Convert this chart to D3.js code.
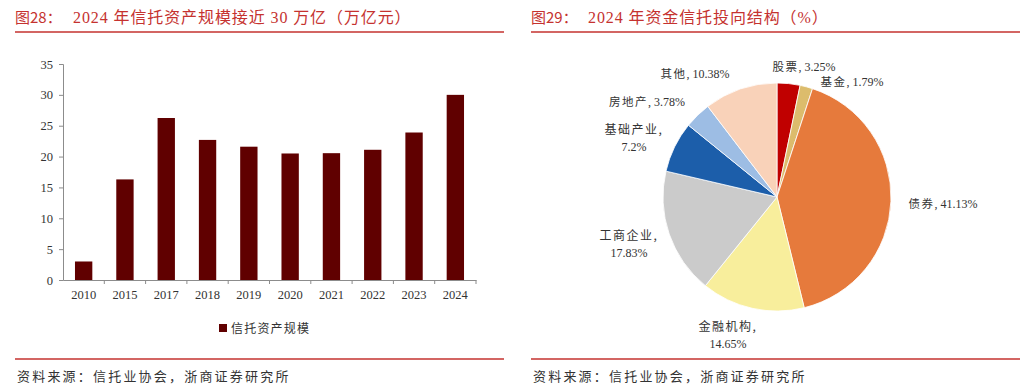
<!DOCTYPE html>
<html>
<head>
<meta charset="utf-8">
<script src="https://cdn.jsdelivr.net/npm/d3@7"></script>
<style>
  body { margin: 0; background: #fff; }
  svg text { font-family: "Liberation Serif", "Noto Sans CJK SC", serif; }
</style>
</head>
<body>
<svg id="chart" width="1024" height="386"></svg>
<script>
// left chart data
var years = ["2010", "2015", "2017", "2018", "2019", "2020", "2021", "2022", "2023", "2024"];
var assets = [3.0, 16.3, 26.25, 22.7, 21.6, 20.5, 20.55, 21.1, 23.9, 30.0];
var yTicks = [0, 5, 10, 15, 20, 25, 30, 35];

// right chart data
var sectors = ["股票", "基金", "债券", "金融机构", "工商企业", "基础产业", "房地产", "其他"];
var shares = [3.25, 1.79, 41.13, 14.65, 17.83, 7.2, 3.78, 10.38];
var sectorColors = ["#c00000", "#dcbc6c", "#e67a3c", "#f8ee9c", "#cbcbcb", "#1c5eaa", "#9dbde4", "#f9d2b9"];
// label anchor offsets from the pie centre (label layout, not data)
var labelOffsets = [[27, -130], [75, -115], [166, 7], [-49, 138], [-148, 47], [-143, -59], [-130, -95], [-82, -123]];
var labelTwoLines = [false, false, false, true, true, true, false, false];

var red = "#c5322f";
var cjk = "'Noto Sans CJK SC', sans-serif";
var svg = d3.select("#chart");

function panelFrame(x0, x1, numTxt, titleTxt, titleX) {
    svg.append("text").attr("x", x0).attr("y", 23)
        .style("font-family", cjk).style("font-size", "15px").style("fill", red)
        .text("图" + numTxt + "：");
    svg.append("text").attr("x", titleX).attr("y", 23)
        .style("font-family", "'Liberation Serif', 'Noto Sans CJK SC'")
        .style("font-size", "16px").style("fill", red)
        .style("letter-spacing", "0.9px")
        .text(titleTxt);
    svg.append("line").attr("x1", x0).attr("x2", x1).attr("y1", 32).attr("y2", 32)
        .style("stroke", red).style("stroke-width", 1.5);
    svg.append("line").attr("x1", x0).attr("x2", x1).attr("y1", 359).attr("y2", 359)
        .style("stroke", red).style("stroke-width", 1.5);
    svg.append("text").attr("x", x0 + 2).attr("y", 381)
        .style("font-family", cjk).style("font-size", "13px").style("fill", "#333")
        .style("letter-spacing", "2.2px")
        .text("资料来源：信托业协会，浙商证券研究所");
}

panelFrame(15, 504, "28", "2024 年信托资产规模接近 30 万亿（万亿元）", 73);
panelFrame(531, 1020, "29", "2024 年资金信托投向结构（%）", 588);

/**
 * Bar chart
 */
var x = d3.scaleBand().domain(years).range([63, 476]).paddingInner(0.58).paddingOuter(0.29);
var y = d3.scaleLinear().domain([0, 35]).range([280, 64]);

var yAxis = svg.append("g").attr("transform", "translate(63,0)")
    .call(d3.axisLeft(y).tickValues(yTicks).tickSize(4).tickPadding(6));
var xAxis = svg.append("g").attr("transform", "translate(0,280)")
    .call(d3.axisBottom(x).tickSize(0).tickPadding(10));

[yAxis, xAxis].forEach(function(a) {
    a.select(".domain").style("stroke", "#8c8c8c");
    a.selectAll(".tick line").style("stroke", "#8c8c8c");
    a.selectAll("text").style("font-size", "12.5px").style("fill", "#333")
        .style("font-family", "'Liberation Serif', serif");
});

// ticks between categories
svg.append("g").selectAll("line")
    .data(years.slice(1).concat(["end"]))
    .enter().append("line")
    .attr("x1", function(d, i) { return i < years.length - 1 ? x(years[i + 1]) - x.step() * x.paddingInner() / 2 : 476; })
    .attr("x2", function(d, i) { return i < years.length - 1 ? x(years[i + 1]) - x.step() * x.paddingInner() / 2 : 476; })
    .attr("y1", 280).attr("y2", 284)
    .style("stroke", "#8c8c8c");

svg.append("g").selectAll("rect")
    .data(assets)
    .enter().append("rect")
    .attr("x", function(d, i) { return x(years[i]); })
    .attr("width", x.bandwidth())
    .attr("y", function(d) { return y(d); })
    .attr("height", function(d) { return y(0) - y(d); })
    .style("fill", "#600000");

// legend
svg.append("rect").attr("x", 219).attr("y", 324).attr("width", 8).attr("height", 8).style("fill", "#600000");
svg.append("text").attr("x", 231).attr("y", 333)
    .style("font-family", cjk).style("font-size", "12px").style("fill", "#333")
    .style("letter-spacing", "1.2px")
    .text("信托资产规模");

/**
 * Pie chart
 */
var cx = 777, cy = 197, radius = 114;
var pie = d3.pie().sort(null).value(function(d) { return d; });
var arc = d3.arc().innerRadius(0).outerRadius(radius);
var arcs = pie(shares);

var pieG = svg.append("g").attr("transform", "translate(" + cx + "," + cy + ")");
pieG.selectAll("path")
    .data(arcs)
    .enter().append("path")
    .attr("d", arc)
    .style("fill", function(d, i) { return sectorColors[i]; })
    .style("stroke", "#fff").style("stroke-width", 0.8);

var labels = pieG.selectAll("text.lbl")
    .data(arcs)
    .enter().append("text")
    .attr("class", "lbl")
    .attr("text-anchor", "middle")
    .style("font-size", "12px").style("fill", "#333");

labels.each(function(d, i) {
    var t = d3.select(this);
    var off = labelOffsets[i];
    var pct = d3.format("")(shares[i]) + "%";
    if (labelTwoLines[i]) {
        t.append("tspan").attr("x", off[0]).attr("y", off[1] - 4)
            .style("font-family", cjk).style("letter-spacing", "1.5px")
            .text(sectors[i] + ",");
        t.append("tspan").attr("x", off[0]).attr("y", off[1] + 13)
            .text(pct);
    } else {
        t.attr("x", off[0]).attr("y", off[1] + 4);
        t.append("tspan").style("font-family", cjk).style("font-size", "11.5px")
            .style("letter-spacing", "1.5px").text(sectors[i]);
        t.append("tspan").text(", " + pct);
    }
});
</script>
</body>
</html>
